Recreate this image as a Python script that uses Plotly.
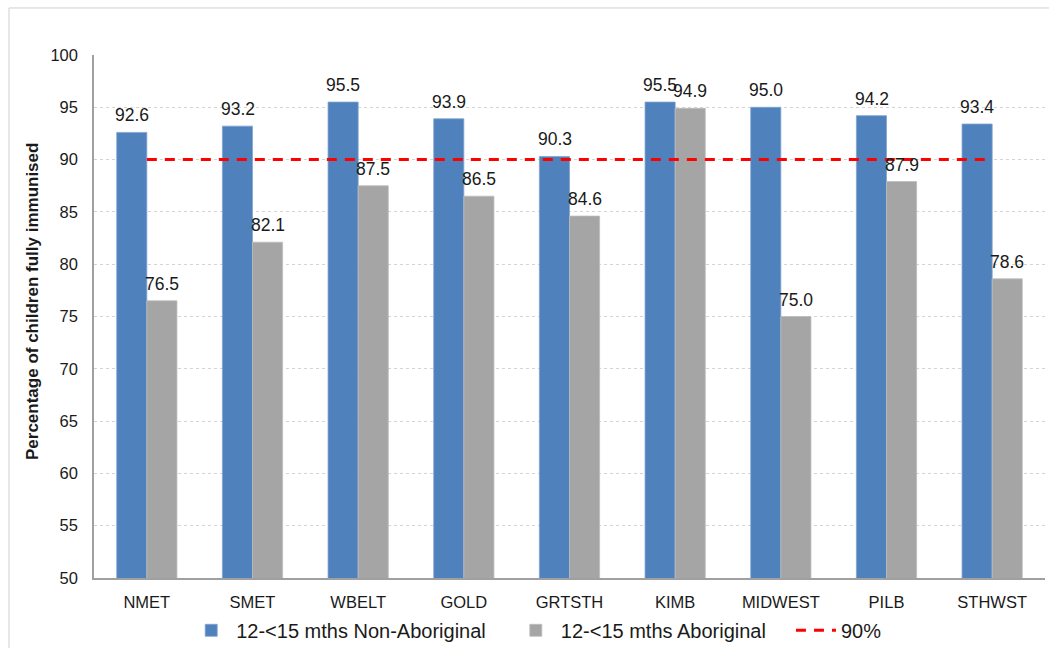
import plotly.graph_objects as go

# Health regions and immunisation coverage (%) for children aged 12-<15 months
regions = ["NMET", "SMET", "WBELT", "GOLD", "GRTSTH", "KIMB", "MIDWEST", "PILB", "STHWST"]
non_aboriginal = [92.6, 93.2, 95.5, 93.9, 90.3, 95.5, 95.0, 94.2, 93.4]
aboriginal = [76.5, 82.1, 87.5, 86.5, 84.6, 94.9, 75.0, 87.9, 78.6]
target = [90, 90, 90, 90, 90, 90, 90, 90, 90]
y_ticks = [50, 55, 60, 65, 70, 75, 80, 85, 90, 95, 100]
series_names = ["12-<15 mths Non-Aboriginal", "12-<15 mths Aboriginal", "90%"]

FONT = "Liberation Sans, Arial, sans-serif"
BLUE = "#4F81BD"
GREY = "#A5A5A5"
INK = "#1a1a1a"
BAR_HALF = 15          # half of a bar's pixel width, used to centre value labels
LEGEND_PAD = "\u2003"  # extra room after a legend entry

fig = go.Figure()

fig.add_trace(go.Bar(
    x=regions, y=non_aboriginal, name=series_names[0] + LEGEND_PAD,
    marker=dict(color=BLUE, line=dict(color="#7fa3d1", width=0.8)),
))
fig.add_trace(go.Bar(
    x=regions, y=aboriginal, name=series_names[1] + LEGEND_PAD,
    marker=dict(color=GREY, line=dict(color="#bdbdbd", width=0.8)),
))

# Value labels sitting a little above each bar
for series, shift in ((non_aboriginal, -BAR_HALF), (aboriginal, BAR_HALF)):
    for region, value in zip(regions, series):
        fig.add_annotation(
            x=region, y=value, text=f"{value:.1f}", showarrow=False,
            xshift=shift, yshift=5, yanchor="bottom", xanchor="center",
            font=dict(size=17.5, color=INK, family=FONT),
        )

fig.add_trace(go.Scatter(
    x=regions, y=target, name=series_names[2], mode="lines",
    line=dict(color="#FF0000", width=3, dash="10px,8px"),
))

# Light frame around the whole chart
fig.add_shape(type="rect", xref="paper", yref="paper",
              x0=-0.0894, x1=1.2, y0=-0.4, y1=1.0899,
              line=dict(color="#d0d0d0", width=1), layer="below")

fig.add_annotation(
    text="<b>Percentage of children fully immunised</b>",
    xref="paper", yref="paper", x=-0.064, y=0.528, textangle=-90,
    showarrow=False, font=dict(size=17, color=INK, family=FONT),
    xanchor="center", yanchor="middle",
)

fig.update_layout(
    width=1049, height=648,
    margin=dict(l=94, r=4, t=55, b=70, autoexpand=False),
    paper_bgcolor="white", plot_bgcolor="white",
    barmode="group", bargap=0.43, bargroupgap=0,
    font=dict(family=FONT, size=16.5, color=INK),
    showlegend=True,
    legend=dict(orientation="h", x=0.465, y=-0.1, xanchor="center", yanchor="middle",
                font=dict(size=20, family=FONT, color=INK),
                itemwidth=40, traceorder="normal"),
    xaxis=dict(showline=True, linecolor="#a0a0a0", linewidth=1.5, ticks="",
               tickfont=dict(size=16.5), showgrid=False, ticklabelstandoff=8),
    yaxis=dict(range=[50, 100], tickvals=y_ticks, showline=True, linecolor="#a0a0a0",
               linewidth=1.5, showgrid=True, gridcolor="#d4d4d4", griddash="dot",
               gridwidth=1, ticks="", tickfont=dict(size=16.5), zeroline=False,
               ticklabelstandoff=11),
)

fig.write_html("out.html")
